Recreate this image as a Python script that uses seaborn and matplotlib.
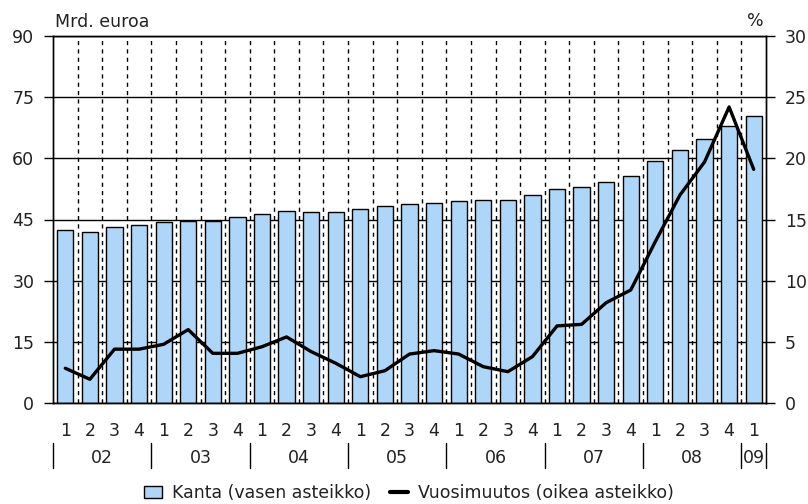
import numpy as np
import pandas as pd
import matplotlib
matplotlib.use('Agg')
import matplotlib.pyplot as plt
import matplotlib.transforms as mtransforms
from matplotlib.patches import Patch
from matplotlib.lines import Line2D
import seaborn as sns

# data (quarterly, 2002Q1 - 2009Q1)
years = ['02', '03', '04', '05', '06', '07', '08', '09']
quarters = ['1', '2', '3', '4'] * 7 + ['1']
kanta = [42.4, 42.0, 43.2, 43.6, 44.5, 44.7, 44.7, 45.5, 46.3, 47.1, 46.8, 46.8,
         47.5, 48.2, 48.7, 49.1, 49.5, 49.9, 49.9, 51.0, 52.6, 53.0, 54.3, 55.7,
         59.3, 62.0, 64.8, 68.0, 70.4]
muutos = [2.84, 1.94, 4.4, 4.4, 4.8, 6.0, 4.06, 4.06, 4.6, 5.4, 4.2, 3.25,
          2.15, 2.64, 4.0, 4.28, 4.0, 2.97, 2.56, 3.79, 6.3, 6.43, 8.2, 9.24,
          13.2, 17.0, 19.7, 24.2, 19.1]
left_ticks = [0, 15, 30, 45, 60, 75, 90]
right_ticks = [0, 5, 10, 15, 20, 25, 30]

bar_color = '#aed6f8'

sns.set_style('white')
plt.rcParams['font.family'] = ['DejaVu Sans']
plt.rcParams['font.size'] = 12.5

n = len(kanta)
df = pd.DataFrame({'period': [f'{i}' for i in range(n)],
                   'idx': np.arange(n),
                   'kanta': kanta,
                   'muutos': muutos})

fig = plt.figure(figsize=(8.08, 5.04), dpi=100)
ax = fig.add_axes([53 / 808, 101 / 504, 713 / 808, 367 / 504])

sns.barplot(data=df, x='period', y='kanta', color=bar_color, saturation=1,
            edgecolor='black', linewidth=1.0, width=0.66, ax=ax)
for p in ax.patches:
    p.set_zorder(3)
ax.set_xlim(-0.5, n - 0.5)
ax.set_ylim(0, 90)
ax.set_yticks(left_ticks)
ax.set_xticks(np.arange(n))
ax.set_xticklabels(quarters)
ax.set_xticks(np.arange(n - 1) + 0.5, minor=True)
ax.grid(False)
ax.set_axisbelow(True)
ax.yaxis.grid(True, which='major', color='black', lw=1.0, zorder=0)
ax.xaxis.grid(True, which='minor', color='black', lw=1.0, ls=(0, (3, 3)),
              zorder=0)
ax.tick_params(axis='x', which='minor', length=0)
ax.tick_params(axis='both', which='major', direction='out', length=6.5,
               width=1, color='black', labelcolor='#222222')
ax.tick_params(axis='y', pad=7)
ax.tick_params(axis='x', pad=7)
ax.set_xlabel('')
ax.set_ylabel('')

ax2 = ax.twinx()
sns.lineplot(data=df, x='idx', y='muutos', color='black', lw=2.4, ax=ax2)
ax2.grid(False)
ax2.set_ylim(0, 30)
ax2.set_yticks(right_ticks)
ax2.set_xlim(-0.5, n - 0.5)
ax2.set_ylabel('')
ax2.tick_params(axis='y', direction='out', length=6.5, width=1, pad=7,
                color='black', labelcolor='#222222')

for a in (ax, ax2):
    for s in a.spines.values():
        s.set_color('black')
        s.set_linewidth(1.0)
        s.set_zorder(4)

# year labels and separators under the quarter labels
trans = mtransforms.blended_transform_factory(ax.transData, ax.transAxes)
for k, yr in enumerate(years):
    start = 4 * k - 0.5
    end = min(4 * k + 3.5, n - 0.5)
    ax.text((start + end) / 2, -0.15, yr, transform=trans, ha='center',
            va='center', color='#222222')
    ax.plot([start, start], [-0.108, -0.176], transform=trans, color='black',
            lw=1, clip_on=False)
ax.plot([n - 0.5, n - 0.5], [-0.108, -0.176], transform=trans, color='black',
        lw=1, clip_on=False)

fig.text(55 / 808, 1 - 22 / 504, 'Mrd. euroa', ha='left', va='center',
         color='#222222')
fig.text(764 / 808, 1 - 21 / 504, '%', ha='right', va='center',
         color='#222222')

handles = [Patch(facecolor=bar_color, edgecolor='black', lw=1.0),
           Line2D([0], [0], color='black', lw=3)]
labels = ['Kanta (vasen asteikko)', 'Vuosimuutos (oikea asteikko)']
fig.legend(handles, labels, loc='center', bbox_to_anchor=(409 / 808, 11 / 504),
           ncol=2, frameon=False, handlelength=1.0, handletextpad=0.6,
           columnspacing=1.1, borderpad=0, labelcolor='#222222')

fig.savefig('out.png', dpi=100)
